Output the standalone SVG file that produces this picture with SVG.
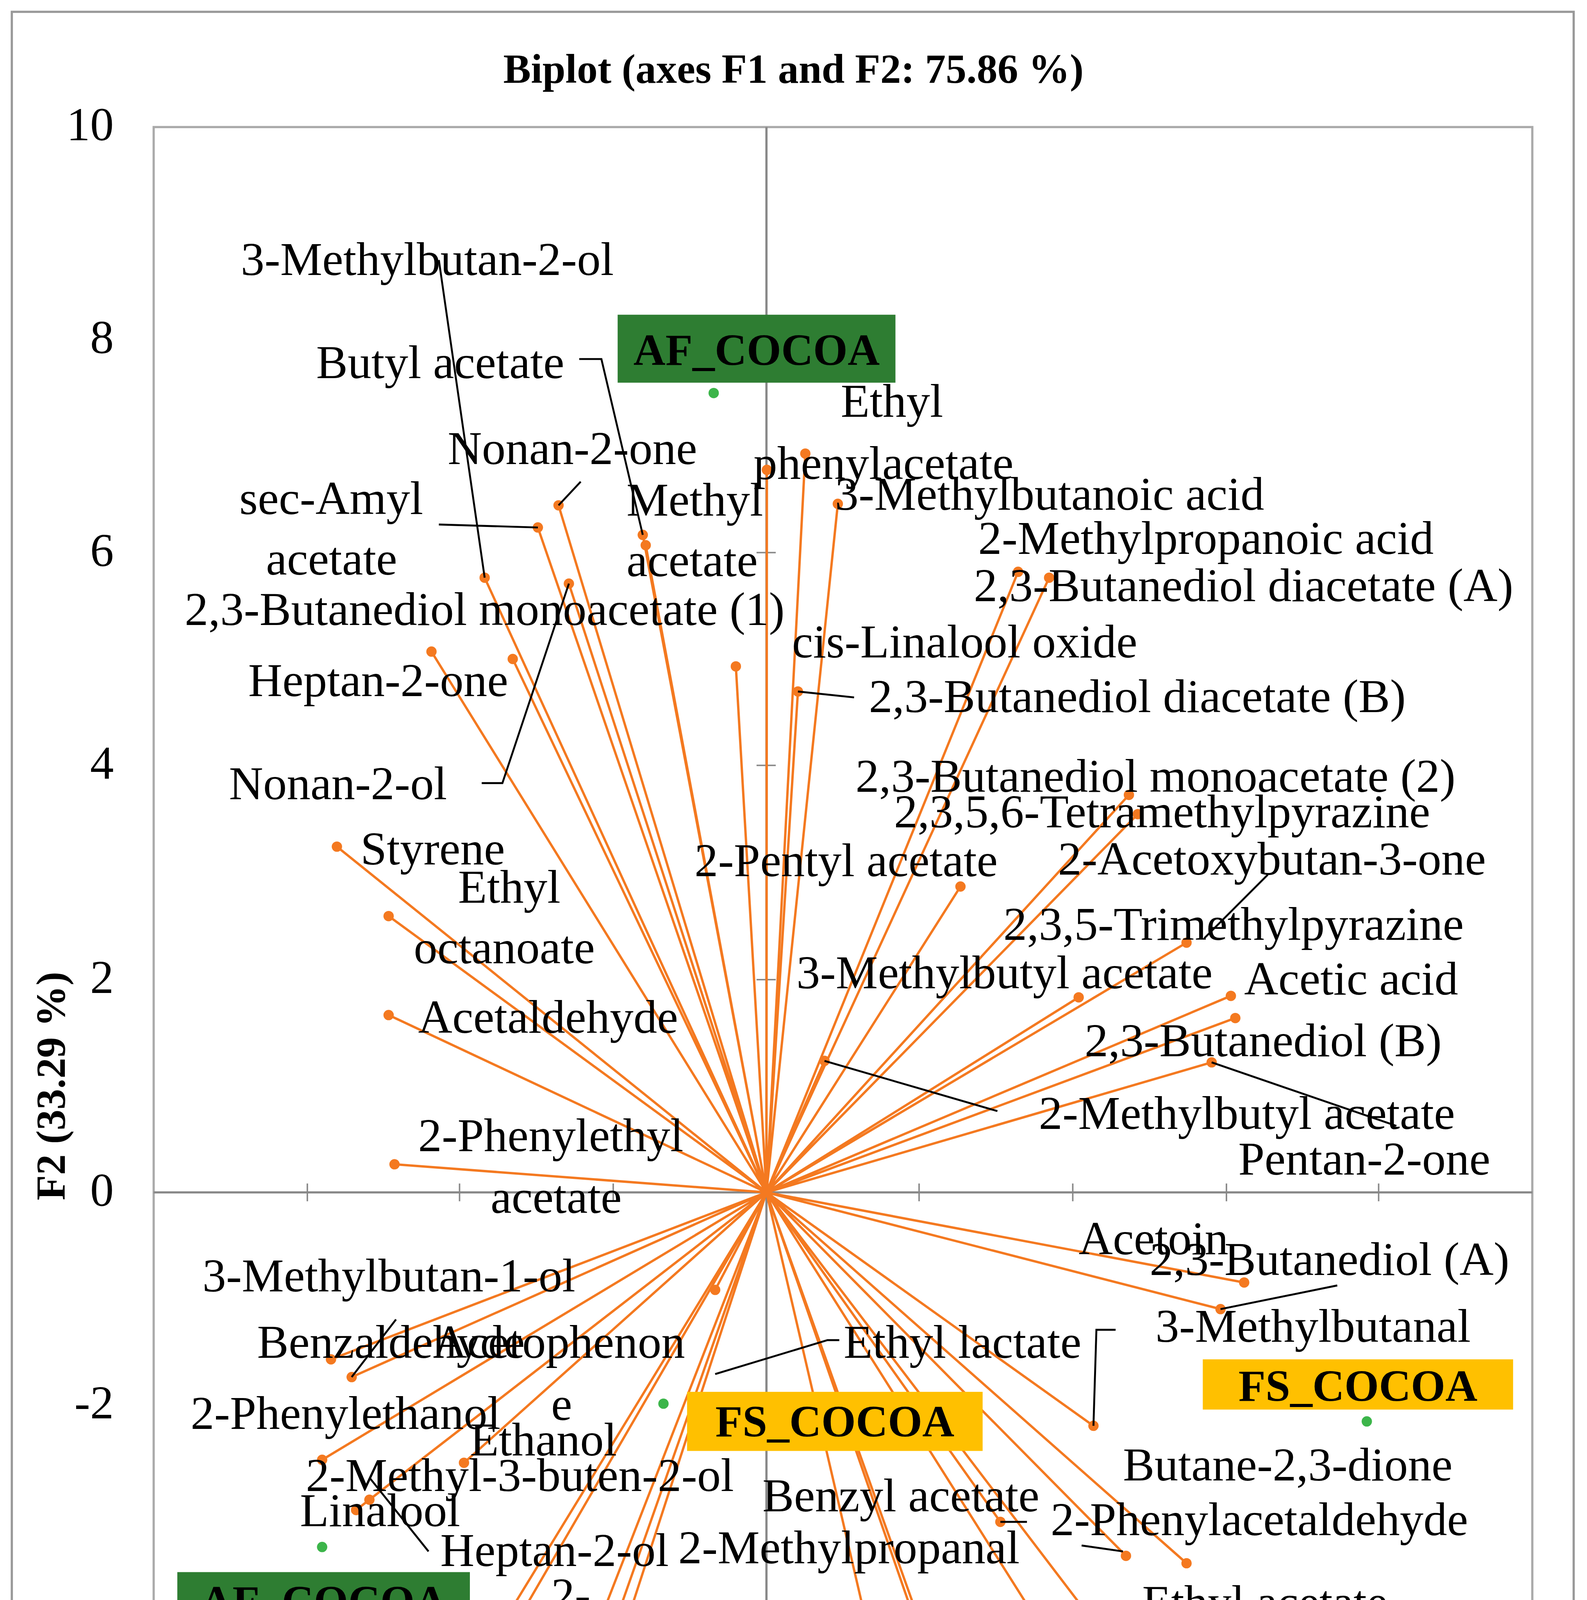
<svg xmlns="http://www.w3.org/2000/svg" width="4063" height="5931" viewBox="0 0 4063 5931">
<style>
text{font-family:"Liberation Serif","DejaVu Serif",serif;font-size:32px;fill:#000}
.b{font-weight:bold;font-size:28px}
.t{font-size:25px}
.v{stroke:#f47920;stroke-width:1.6;fill:none}
.l{stroke:#000;stroke-width:1.3;fill:none}
.ax{stroke:#888;stroke-width:1.5}
.tk{stroke:#888;stroke-width:1}
.lb{font-family:"Liberation Serif",serif;font-weight:bold;font-size:30px}
</style>
<rect width="4063" height="5931" fill="#fff"/>
<g transform="scale(3.783,3.7825)">
<rect x="8" y="8" width="1057" height="1552" fill="none" stroke="#999" stroke-width="1.5"/>
<g id="frame">
<rect x="104" y="86" width="933" height="1298" fill="none" stroke="#aaa" stroke-width="1.5"/>
<line class="ax" x1="518.7" y1="86" x2="518.7" y2="1384"/>
<line class="ax" x1="104" y1="807" x2="1037" y2="807"/>
<path class="tk" d="M512 230h13M512 374h13M512 518h13M512 663h13M512 951h13M512 1095h13M512 1240h13M208 801v12M311 801v12M415 801v12M622 801v12M726 801v12M830 801v12M933 801v12"/>
</g>
<g id="ticks" class="t">
<text x="77" y="95" text-anchor="end">10</text>
<text x="77" y="239" text-anchor="end">8</text>
<text x="77" y="383" text-anchor="end">6</text>
<text x="77" y="527" text-anchor="end">4</text>
<text x="77" y="672" text-anchor="end">2</text>
<text x="77" y="816" text-anchor="end">0</text>
<text x="77" y="960" text-anchor="end">-2</text>
<text x="77" y="1104" text-anchor="end">-4</text>
<text x="77" y="1249" text-anchor="end">-6</text>
<text x="77" y="1393" text-anchor="end">-8</text>
<text x="104" y="1430" text-anchor="middle">-8</text>
<text x="208" y="1430" text-anchor="middle">-6</text>
<text x="311" y="1430" text-anchor="middle">-4</text>
<text x="415" y="1430" text-anchor="middle">-2</text>
<text x="519" y="1430" text-anchor="middle">0</text>
<text x="622" y="1430" text-anchor="middle">2</text>
<text x="726" y="1430" text-anchor="middle">4</text>
<text x="830" y="1430" text-anchor="middle">6</text>
<text x="933" y="1430" text-anchor="middle">8</text>
<text x="1037" y="1430" text-anchor="middle">10</text>
</g>
<text class="b" x="537" y="56" text-anchor="middle">Biplot (axes F1 and F2: 75.86 %)</text>
<text class="b" x="570" y="1476" text-anchor="middle">F1 (42.57 %)</text>
<text class="b" transform="translate(44,735) rotate(-90)" text-anchor="middle">F2 (33.29 %)</text>
<text class="b" x="48" y="1541">A</text>
<g id="vectors" class="v">
<path d="M518.7 807L435 362M518.7 807L437 369M518.7 807L378 342M518.7 807L364 357M518.7 807L328 391M518.7 807L385 395M518.7 807L347 446M518.7 807L292 441M518.7 807L498 451M518.7 807L540 468M518.7 807L545 307M518.7 807L519 318M518.7 807L567 341M518.7 807L689 387M518.7 807L710 391M518.7 807L764 538M518.7 807L770 551M518.7 807L650 600M518.7 807L803 638M518.7 807L730 675M518.7 807L833 674M518.7 807L836 689M518.7 807L820 719M518.7 807L558 718M518.7 807L228 573M518.7 807L263 620M518.7 807L263 687M518.7 807L267 788M518.7 807L842 868M518.7 807L826 886M518.7 807L484 873M518.7 807L740 965M518.7 807L803 1058M518.7 807L762 1053M518.7 807L677 1030M518.7 807L702 1097M518.7 807L764 1129M518.7 807L593 1127M518.7 807L673 1252M518.7 807L677 1251M518.7 807L224 920M518.7 807L238 932M518.7 807L218 988M518.7 807L314 990M518.7 807L241 1022M518.7 807L250 1015M518.7 807L340 1099M518.7 807L317 1154M518.7 807L360 1215M518.7 807L390 1203M518.7 807L365 1244"/>
</g>
<g id="points" fill="#f47920">
<circle cx="435" cy="362" r="3.5"/><circle cx="437" cy="369" r="3.5"/><circle cx="378" cy="342" r="3.5"/><circle cx="364" cy="357" r="3.5"/><circle cx="328" cy="391" r="3.5"/><circle cx="385" cy="395" r="3.5"/><circle cx="347" cy="446" r="3.5"/><circle cx="292" cy="441" r="3.5"/><circle cx="498" cy="451" r="3.5"/><circle cx="540" cy="468" r="3.5"/><circle cx="545" cy="307" r="3.5"/><circle cx="519" cy="318" r="3.5"/><circle cx="567" cy="341" r="3.5"/><circle cx="689" cy="387" r="3.5"/><circle cx="710" cy="391" r="3.5"/><circle cx="764" cy="538" r="3.5"/><circle cx="770" cy="551" r="3.5"/><circle cx="650" cy="600" r="3.5"/><circle cx="803" cy="638" r="3.5"/><circle cx="730" cy="675" r="3.5"/><circle cx="833" cy="674" r="3.5"/><circle cx="836" cy="689" r="3.5"/><circle cx="820" cy="719" r="3.5"/><circle cx="558" cy="718" r="3.5"/><circle cx="228" cy="573" r="3.5"/><circle cx="263" cy="620" r="3.5"/><circle cx="263" cy="687" r="3.5"/><circle cx="267" cy="788" r="3.5"/><circle cx="842" cy="868" r="3.5"/><circle cx="826" cy="886" r="3.5"/><circle cx="484" cy="873" r="3.5"/><circle cx="740" cy="965" r="3.5"/><circle cx="803" cy="1058" r="3.5"/><circle cx="762" cy="1053" r="3.5"/><circle cx="677" cy="1030" r="3.5"/><circle cx="702" cy="1097" r="3.5"/><circle cx="764" cy="1129" r="3.5"/><circle cx="593" cy="1127" r="3.5"/><circle cx="673" cy="1252" r="3.5"/><circle cx="677" cy="1251" r="3.5"/><circle cx="224" cy="920" r="3.5"/><circle cx="238" cy="932" r="3.5"/><circle cx="218" cy="988" r="3.5"/><circle cx="314" cy="990" r="3.5"/><circle cx="241" cy="1022" r="3.5"/><circle cx="250" cy="1015" r="3.5"/><circle cx="340" cy="1099" r="3.5"/><circle cx="317" cy="1154" r="3.5"/><circle cx="360" cy="1215" r="3.5"/><circle cx="390" cy="1203" r="3.5"/><circle cx="365" cy="1244" r="3.5"/>
</g>
<g id="observations" fill="#3cb54a">
<circle cx="483" cy="266" r="3.5"/><circle cx="449" cy="950" r="3.5"/><circle cx="925" cy="962" r="3.5"/><circle cx="218" cy="1047" r="3.5"/>
</g>
<g id="leaders" class="l">
<path d="M297 176L328 391M392 243H407L435 362M393 326L378 342M297 355L364 357M326 530H340L385 395M858 592L815 635M558 718L675 752M820 719L945 762M826 886L905 870M484 930L560 907H568M740 965L742 900H755M732 1046L760 1050M702 1097L765 1085M673 1252L735 1212H747M238 932L268 893M250 1000L290 1050M677 1030H695M540 468L578 472"/>
</g>
<g id="obs-labels">
<rect x="418" y="213" width="188" height="46" fill="#2e7d32"/>
<text class="lb" x="512" y="247" text-anchor="middle">AF_COCOA</text>
<rect x="120" y="1064" width="198" height="38" fill="#2e7d32"/>
<text class="lb" x="219" y="1094" text-anchor="middle">AF_COCOA</text>
<rect x="465" y="942" width="200" height="40" fill="#ffc000"/>
<text class="lb" x="565" y="972" text-anchor="middle">FS_COCOA</text>
<rect x="814" y="920" width="210" height="34" fill="#ffc000"/>
<text class="lb" x="919" y="948" text-anchor="middle">FS_COCOA</text>
</g>
<g id="labels">
<text x="163" y="186">3-Methylbutan-2-ol</text>
<text x="214" y="256">Butyl acetate</text>
<text x="569" y="282">Ethyl</text>
<text x="303" y="314">Nonan-2-one</text>
<text x="510" y="324">phenylacetate</text>
<text x="162" y="348">sec-Amyl</text>
<text x="424" y="349">Methyl</text>
<text x="565" y="345">3-Methylbutanoic acid</text>
<text x="662" y="375">2-Methylpropanoic acid</text>
<text x="180" y="389">acetate</text>
<text x="424" y="390">acetate</text>
<text x="659" y="407">2,3-Butanediol diacetate (A)</text>
<text x="125" y="423">2,3-Butanediol monoacetate (1)</text>
<text x="536" y="445">cis-Linalool oxide</text>
<text x="168" y="471">Heptan-2-one</text>
<text x="588" y="482">2,3-Butanediol diacetate (B)</text>
<text x="155" y="541">Nonan-2-ol</text>
<text x="579" y="536">2,3-Butanediol monoacetate (2)</text>
<text x="605" y="560">2,3,5,6-Tetramethylpyrazine</text>
<text x="244" y="585">Styrene</text>
<text x="470" y="593">2-Pentyl acetate</text>
<text x="716" y="592">2-Acetoxybutan-3-one</text>
<text x="310" y="611">Ethyl</text>
<text x="679" y="636">2,3,5-Trimethylpyrazine</text>
<text x="280" y="652">octanoate</text>
<text x="539" y="669">3-Methylbutyl acetate</text>
<text x="842" y="673">Acetic acid</text>
<text x="283" y="699">Acetaldehyde</text>
<text x="734" y="715">2,3-Butanediol (B)</text>
<text x="703" y="764">2-Methylbutyl acetate</text>
<text x="283" y="779">2-Phenylethyl</text>
<text x="838" y="795">Pentan-2-one</text>
<text x="332" y="821">acetate</text>
<text x="730" y="849">Acetoin</text>
<text x="778" y="863">2,3-Butanediol (A)</text>
<text x="137" y="874">3-Methylbutan-1-ol</text>
<text x="782" y="908">3-Methylbutanal</text>
<text x="174" y="919">Benzaldehyde</text>
<text x="293" y="919">Acetophenon</text>
<text x="571" y="919">Ethyl lactate</text>
<text x="373" y="961">e</text>
<text x="129" y="967">2-Phenylethanol</text>
<text x="318" y="985">Ethanol</text>
<text x="760" y="1002">Butane-2,3-dione</text>
<text x="207" y="1009">2-Methyl-3-buten-2-ol</text>
<text x="516" y="1023">Benzyl acetate</text>
<text x="203" y="1033">Linalool</text>
<text x="711" y="1039">2-Phenylacetaldehyde</text>
<text x="298" y="1060">Heptan-2-ol</text>
<text x="459" y="1058">2-Methylpropanal</text>
<text x="373" y="1090">2-</text>
<text x="773" y="1095">Ethyl acetate</text>
<text x="610" y="1117">Dimethyl</text>
<text x="290" y="1132">Methylbutana</text>
<text x="798" y="1142">Ethyl hexanoate</text>
<text x="628" y="1159">sulfide</text>
<text x="372" y="1165">l</text>
<text x="264" y="1181">Isobutanol</text>
<text x="258" y="1213">Isobutyl</text>
<text x="408" y="1216">β-Myrcene</text>
<text x="778" y="1224">Benzyl alcohol</text>
<text x="267" y="1254">acetate</text>
<text x="695" y="1265">Hexyl acetate</text>
<text x="359" y="1282">trans-β-ocimene</text>
</g>
<g id="legend">
<rect x="246" y="1500" width="581" height="48" fill="#fff" stroke="#000" stroke-width="1.3"/>
<circle cx="296" cy="1524" r="3.5" fill="#f47920"/>
<text x="312" y="1533">Active variables</text>
<circle cx="548" cy="1524" r="3.5" fill="#3cb54a"/>
<text x="566" y="1533">Active observations</text>
</g>
</g>
</svg>
